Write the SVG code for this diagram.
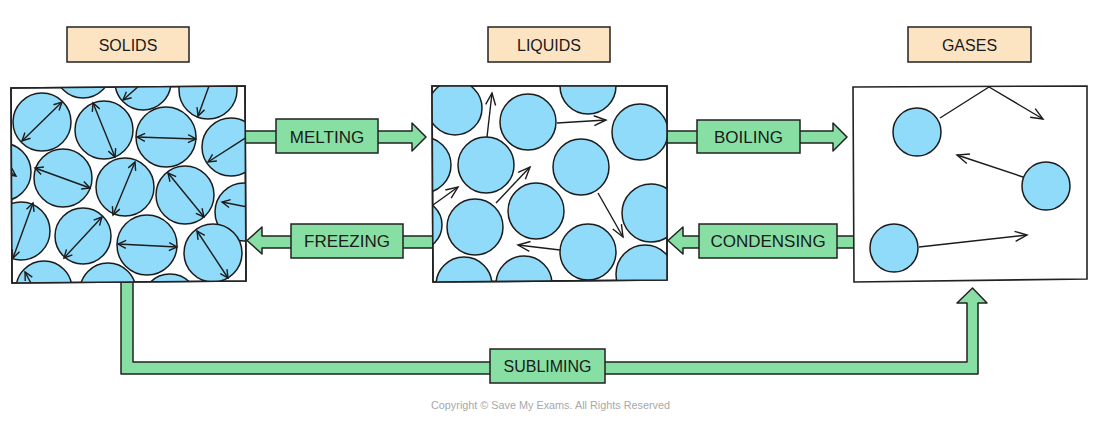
<svg xmlns="http://www.w3.org/2000/svg" width="1100" height="432" viewBox="0 0 1100 432">
<style>
.lbl{fill:#fce4c2;stroke:#222;stroke-width:1.5}
.tag{fill:#88dfa3;stroke:#222;stroke-width:1.5}
.arr{fill:#88dfa3;stroke:#222;stroke-width:1.5;stroke-linejoin:round}
.box{fill:#fff;stroke:#222;stroke-width:1.6}
.frame{fill:none;stroke:#222;stroke-width:1.6}
.p{fill:#8fdbf9;stroke:#1c1c1c;stroke-width:1.5}
.da{stroke:#1c1c1c;stroke-width:1.4;fill:none;marker-start:url(#hs);marker-end:url(#hs)}
.sa{stroke:#1c1c1c;stroke-width:1.4;fill:none;marker-end:url(#hs)}
.la{stroke:#1c1c1c;stroke-width:1.4;fill:none;marker-end:url(#hl)}
.t{font-family:"Liberation Sans",Arial,sans-serif;fill:#1a1a1a;text-anchor:middle}
</style>
<defs>
<marker id="hs" markerUnits="userSpaceOnUse" markerWidth="10" markerHeight="10" refX="8" refY="4" orient="auto-start-reverse" overflow="visible">
<path d="M0,0 L8,4 L0,8" fill="none" stroke="#1c1c1c" stroke-width="1.4"/>
</marker>
<marker id="hl" markerUnits="userSpaceOnUse" markerWidth="14" markerHeight="12" refX="12" refY="5" orient="auto" overflow="visible">
<path d="M0,0 L12,5 L0,10" fill="none" stroke="#1c1c1c" stroke-width="1.4"/>
</marker>
<clipPath id="cs"><path d="M11,88 L245,86 L246,281 L12,283 Z"/></clipPath>
<clipPath id="cl"><path d="M432,86 L667,86 L667,280 L433,282 Z"/></clipPath>
</defs>

<g id="connectors">
<path class="arr" d="M240,131 L412,131 L412,123 L426,137 L412,151 L412,143 L240,143 Z"/>
<path class="arr" d="M437,236 L262,236 L262,227 L247,240.5 L262,254 L262,248 L437,248 Z"/>
<path class="arr" d="M662,131 L833,131 L833,123 L847,137 L833,151 L833,143 L662,143 Z"/>
<path class="arr" d="M858,236 L683,236 L683,227 L668,240.5 L683,254 L683,248 L858,248 Z"/>
<path class="arr" d="M121,278 L121,374 L978,374 L978,303 L987,303 L972.5,288 L957,303 L967,303 L967,362 L133,362 L133,278 Z"/>
</g>

<g id="solids">
<rect class="lbl" x="67" y="27" width="122" height="35"/>
<text class="t" x="128" y="51" font-size="16">SOLIDS</text>
<path class="box" d="M11,88 L245,86 L246,281 L12,283 Z"/>
<g clip-path="url(#cs)">
<circle class="p" cx="83" cy="70" r="28"/>
<circle class="p" cx="143" cy="82" r="28"/>
<circle class="p" cx="208" cy="90" r="29"/>
<circle class="p" cx="42" cy="122" r="29"/>
<circle class="p" cx="104" cy="130" r="29"/>
<circle class="p" cx="166" cy="137" r="30"/>
<circle class="p" cx="231" cy="147" r="29"/>
<circle class="p" cx="2" cy="172" r="29"/>
<circle class="p" cx="63" cy="178" r="29"/>
<circle class="p" cx="125" cy="187" r="29"/>
<circle class="p" cx="185" cy="195" r="29"/>
<circle class="p" cx="244" cy="212" r="29"/>
<circle class="p" cx="21" cy="231" r="29"/>
<circle class="p" cx="83" cy="236" r="28"/>
<circle class="p" cx="147" cy="245" r="30"/>
<circle class="p" cx="213" cy="253" r="29"/>
<circle class="p" cx="44" cy="289" r="28"/>
<circle class="p" cx="108" cy="291" r="28"/>
<circle class="p" cx="170" cy="302" r="28"/>
<line class="sa" x1="140" y1="85" x2="123" y2="100"/>
<line class="sa" x1="209" y1="86" x2="198" y2="116"/>
<line class="da" x1="22" y1="141" x2="62" y2="102"/>
<line class="da" x1="93" y1="103" x2="115" y2="157"/>
<line class="da" x1="137" y1="137" x2="196" y2="139"/>
<line class="sa" x1="250" y1="135" x2="208" y2="162"/>
<line class="sa" x1="0" y1="165" x2="16" y2="176"/>
<line class="da" x1="35" y1="168" x2="90" y2="188"/>
<line class="da" x1="135" y1="162" x2="113" y2="215"/>
<line class="da" x1="168" y1="173" x2="204" y2="217"/>
<line class="sa" x1="252" y1="208" x2="222" y2="202"/>
<line class="da" x1="33" y1="203" x2="13" y2="258"/>
<line class="da" x1="102" y1="217" x2="64" y2="258"/>
<line class="da" x1="118" y1="244" x2="177" y2="247"/>
<line class="da" x1="197" y1="231" x2="228" y2="278"/>
<line class="sa" x1="40" y1="300" x2="25" y2="272"/>
</g>
<path class="frame" d="M11,88 L245,86 L246,281 L12,283 Z"/>
</g>

<g id="liquids">
<rect class="lbl" x="488" y="27" width="122" height="35"/>
<text class="t" x="549" y="51" font-size="16">LIQUIDS</text>
<path class="box" d="M432,86 L667,86 L667,280 L433,282 Z"/>
<g clip-path="url(#cl)">
<circle class="p" cx="455" cy="108" r="27"/>
<circle class="p" cx="528" cy="122" r="28"/>
<circle class="p" cx="588" cy="86" r="28"/>
<circle class="p" cx="640" cy="132" r="28"/>
<circle class="p" cx="423" cy="165" r="28"/>
<circle class="p" cx="486" cy="165" r="28"/>
<circle class="p" cx="581" cy="167" r="28"/>
<circle class="p" cx="417" cy="225" r="25"/>
<circle class="p" cx="475" cy="227" r="28"/>
<circle class="p" cx="536" cy="211" r="28"/>
<circle class="p" cx="651" cy="213" r="29"/>
<circle class="p" cx="588" cy="252" r="28"/>
<circle class="p" cx="464" cy="285" r="28"/>
<circle class="p" cx="524" cy="284" r="28"/>
<circle class="p" cx="645" cy="274" r="29"/>
<line class="la" x1="487" y1="137" x2="492" y2="93"/>
<line class="la" x1="557" y1="123" x2="606" y2="120"/>
<line class="la" x1="496" y1="203" x2="530" y2="167"/>
<line class="la" x1="433" y1="205" x2="458" y2="187"/>
<line class="la" x1="598" y1="193" x2="623" y2="237"/>
<line class="la" x1="560" y1="250" x2="518" y2="245"/>
</g>
<path class="frame" d="M432,86 L667,86 L667,280 L433,282 Z"/>
</g>

<g id="gases">
<rect class="lbl" x="908" y="27" width="123" height="35"/>
<text class="t" x="969.5" y="51" font-size="16">GASES</text>
<path class="box" d="M853,87 L1087,86 L1087,279 L854,282 Z"/>
<circle class="p" cx="917" cy="132" r="24"/>
<circle class="p" cx="1046" cy="186" r="24"/>
<circle class="p" cx="894" cy="248" r="24"/>
<polyline class="la" points="940,118 989,87 1043,119"/>
<line class="la" x1="1023" y1="177" x2="957" y2="155"/>
<line class="la" x1="919" y1="247" x2="1027" y2="235"/>
</g>

<g id="melting">
<rect class="tag" x="276" y="119" width="102" height="34"/>
<text class="t" x="327" y="143" font-size="17">MELTING</text>
</g>
<g id="freezing">
<rect class="tag" x="291" y="224" width="112" height="34"/>
<text class="t" x="347" y="247" font-size="17">FREEZING</text>
</g>
<g id="boiling">
<rect class="tag" x="697" y="120" width="103" height="33"/>
<text class="t" x="748.5" y="143" font-size="17">BOILING</text>
</g>
<g id="condensing">
<rect class="tag" x="699" y="224" width="138" height="34"/>
<text class="t" x="768" y="247" font-size="17">CONDENSING</text>
</g>
<g id="subliming">
<rect class="tag" x="490" y="349" width="115" height="34"/>
<text class="t" x="547.5" y="372" font-size="16">SUBLIMING</text>
</g>

<text class="t" x="550.5" y="409" font-size="11" style="fill:#a8a8a8" textLength="239" lengthAdjust="spacingAndGlyphs">Copyright © Save My Exams. All Rights Reserved</text>
</svg>
